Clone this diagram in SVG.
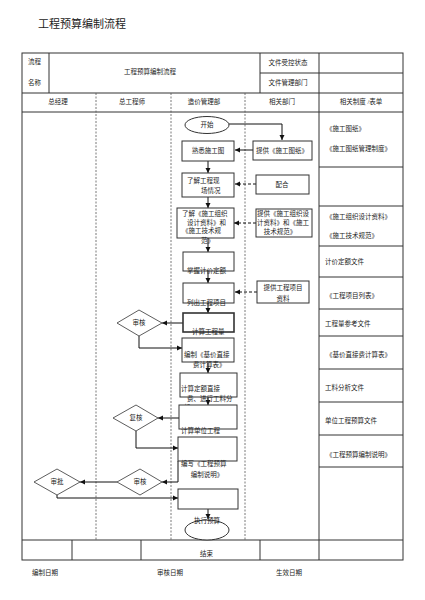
<svg xmlns="http://www.w3.org/2000/svg" width="425" height="600" viewBox="0 0 425 600">
<defs>
<marker id="ah" markerWidth="6" markerHeight="6" refX="5" refY="3" orient="auto" markerUnits="userSpaceOnUse">
<path d="M0,0.5 L5,3 L0,5.5 Z" fill="#111"/>
</marker>
<style>
.tl{stroke:#333;stroke-width:1;fill:none}
.dl{stroke:#555;stroke-width:0.8;fill:none;stroke-dasharray:2,1.5}
.bx{fill:#fff;stroke:#333;stroke-width:1}
.dm{fill:#fff;stroke:#333;stroke-width:0.8}
.c{stroke:#111;stroke-width:1;fill:none;marker-end:url(#ah)}
.cd{stroke:#111;stroke-width:1;fill:none;stroke-dasharray:3,2;marker-end:url(#ah)}
text{font-family:"Liberation Serif","Noto Sans CJK SC",serif;font-size:6.5px;fill:#222}
.m{text-anchor:middle}
.ttl{font-size:11px}
</style>
</defs>
<rect width="425" height="600" fill="#fff"/>
<text x="38" y="28" class="ttl">工程预算编制流程</text>

<g id="table">
<rect x="22" y="53" width="381" height="507" class="tl"/>
<line x1="22" y1="93" x2="403" y2="93" class="tl"/>
<line x1="22" y1="112" x2="403" y2="112" class="tl"/>
<line x1="49" y1="53" x2="49" y2="93" class="tl"/>
<line x1="260" y1="53" x2="260" y2="93" class="tl"/>
<line x1="319" y1="53" x2="319" y2="540" class="tl"/>
<line x1="260" y1="73" x2="403" y2="73" class="tl"/>
<line x1="96" y1="93" x2="96" y2="540" class="dl"/>
<line x1="171" y1="93" x2="171" y2="540" class="dl"/>
<line x1="245" y1="93" x2="245" y2="540" class="dl"/>
<line x1="22" y1="540" x2="403" y2="540" class="tl"/>
<line x1="72" y1="540" x2="72" y2="560" class="tl"/>
<line x1="141" y1="540" x2="141" y2="560" class="tl"/>
<line x1="260" y1="540" x2="260" y2="560" class="tl"/>
<line x1="319" y1="540" x2="319" y2="560" class="tl"/>
<path d="M319,167H403M319,206H403M319,246H403M319,277H403M319,309H403M319,336H403M319,369H403M319,402H403M319,435H403M319,467H403" class="tl"/>
<text x="28" y="64">流程</text>
<text x="28" y="85">名称</text>
<text x="150" y="74" class="m">工程预算编制流程</text>
<text x="288" y="65" class="m">文件受控状态</text>
<text x="288" y="85" class="m">文件管理部门</text>
<text x="58" y="104" class="m">总经理</text>
<text x="132" y="104" class="m">总工程师</text>
<text x="204" y="104" class="m">造价管理部</text>
<text x="282" y="104" class="m">相关部门</text>
<text x="361" y="104" class="m">相关制度 /表单</text>
<text x="326" y="131">《施工图纸》</text>
<text x="326" y="151">《施工图纸管理制度》</text>
<text x="326" y="219">《施工组织设计资料》</text>
<text x="326" y="238">《施工技术规范》</text>
<text x="325" y="264">计价定额文件</text>
<text x="326" y="298">《工程项目列表》</text>
<text x="325" y="326">工程量参考文件</text>
<text x="326" y="357">《基价直接费计算表》</text>
<text x="325" y="390">工料分析文件</text>
<text x="325" y="423">单位工程预算文件</text>
<text x="326" y="457">《工程预算编制说明》</text>
<text x="200" y="556">结束</text>
<text x="32" y="575">编制日期</text>
<text x="157" y="575">审核日期</text>
<text x="276" y="575">生效日期</text>
</g>

<g id="connectors">
<path d="M229,124H282V140" class="c"/>
<path d="M253,150H235" class="c"/>
<path d="M208,161V173" class="c"/>
<path d="M256,184H235" class="cd"/>
<path d="M208,197V208" class="c"/>
<path d="M256,223H234" class="cd"/>
<path d="M208,238V252" class="c"/>
<path d="M208,271V283" class="c"/>
<path d="M257,292H235" class="cd"/>
<path d="M208,303V313" class="c"/>
<path d="M183,323H162" class="c"/>
<path d="M139,336V348H182" class="c"/>
<path d="M208,363V373" class="c"/>
<path d="M208,397V405" class="c"/>
<path d="M179,418H158" class="c"/>
<path d="M136,431V448H178" class="c"/>
<path d="M178,461V482H162" class="c"/>
<path d="M117,482H80" class="c"/>
<path d="M57,495V498H178" class="c"/>
<path d="M208,509V519" class="c"/>
</g>

<g id="start"><ellipse cx="207" cy="125" rx="22" ry="8.5" class="bx"/><text x="207" y="127" class="m">开始</text></g>
<g id="provide-drawings"><rect x="253" y="141" width="59" height="19" class="bx"/><text x="282" y="153" class="m">提供《施工图纸》</text></g>
<g id="familiarize"><rect x="182" y="141" width="52" height="20" class="bx"/><text x="208" y="153" class="m">熟悉施工图</text></g>
<g id="site"><rect x="182" y="173" width="52" height="24" class="bx"/><text x="187" y="183">了解工程现</text><text x="201" y="193">场情况</text></g>
<g id="cooperate"><rect x="256" y="175" width="53" height="19" class="bx"/><text x="282" y="187" class="m">配合</text></g>
<g id="learn-docs"><rect x="177" y="208" width="57" height="30" class="bx"/><text x="182" y="216">了解《施工组织</text><text x="187" y="225">设计资料》和</text><text x="182" y="233">《施工技术规</text><text x="201" y="243">范》</text></g>
<g id="provide-docs"><rect x="256" y="209" width="56" height="28" class="bx"/><text x="257" y="216">提供《施工组织设</text><text x="257" y="225">计资料》和《施工</text><text x="280" y="234" class="m">技术规范》</text></g>
<g id="quota"><rect x="183" y="252" width="51" height="19" class="bx"/><text x="187" y="273">掌握计价定额</text></g>
<g id="list-items"><rect x="183" y="283" width="51" height="20" class="bx"/><text x="187" y="305">列出工程项目</text></g>
<g id="provide-items"><rect x="257" y="281" width="52" height="22" class="bx"/><text x="283" y="290" class="m">提供工程项目</text><text x="283" y="301" class="m">资料</text></g>
<g id="quantity"><rect x="183" y="313" width="51" height="19" class="bx" style="stroke-width:1.6"/><text x="192" y="334">计算工程量</text></g>
<g id="review1"><polygon points="117,323 139,310 162,323 139,336" class="dm"/><text x="139" y="325" class="m">审核</text></g>
<g id="prepare-table"><rect x="182" y="338" width="52" height="24" class="bx"/><text x="184" y="357">编制《基价直接</text><text x="193" y="367">费计算表》</text></g>
<g id="calc-direct"><rect x="180" y="373" width="57" height="24" class="bx"/><text x="181" y="391">计算定额直接</text><text x="187" y="401">费、进行工料分</text><text x="184" y="410">析</text></g>
<g id="unit-cost"><rect x="179" y="405" width="58" height="24" class="bx"/><text x="181" y="433">计算单位工程</text><text x="195" y="443">预算造价</text></g>
<g id="recheck"><polygon points="113,418 136,405 158,418 136,431" class="dm"/><text x="136" y="420" class="m">复核</text></g>
<g id="write-notes"><rect x="178" y="437" width="59" height="24" class="bx"/><text x="181" y="466">编写《工程预算</text><text x="207" y="477" class="m">编制说明》</text></g>
<g id="review2"><polygon points="117,482 140,469 162,482 140,495" class="dm"/><text x="140" y="484" class="m">审核</text></g>
<g id="approve"><polygon points="34,482 57,469 80,482 57,495" class="dm"/><text x="57" y="484" class="m">审批</text></g>
<g id="final-box"><rect x="178" y="489" width="60" height="20" class="bx"/></g>
<g id="execute"><ellipse cx="207" cy="530" rx="22" ry="10" class="bx"/><text x="207" y="523" class="m">执行预算</text></g>
</svg>
